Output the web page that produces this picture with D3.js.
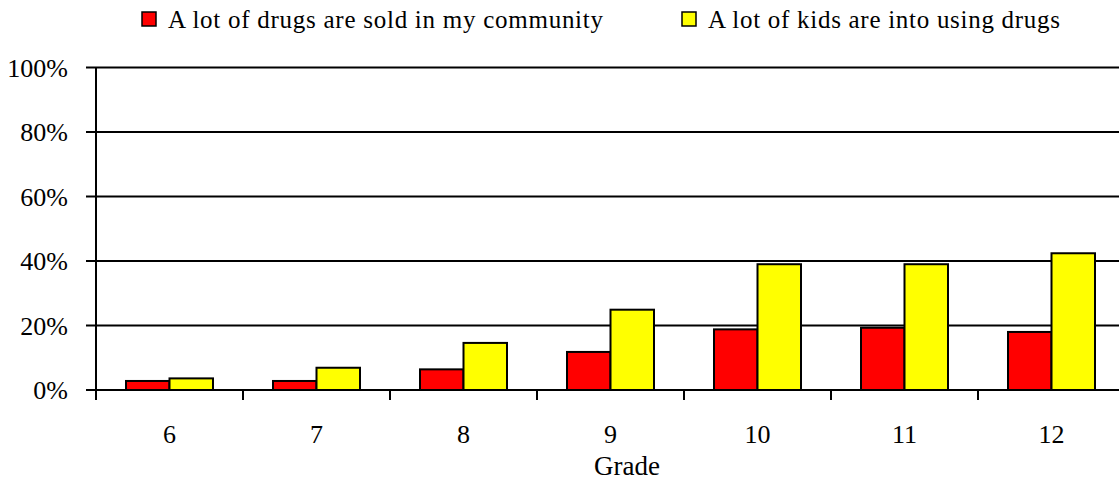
<!DOCTYPE html>
<html>
<head>
<meta charset="utf-8">
<script src="https://cdn.jsdelivr.net/npm/d3@7"></script>
<style>
  body { margin: 0; background: #fff; }
  svg { display: block; }
  text { font-family: "Liberation Serif", "DejaVu Serif", serif; }
</style>
</head>
<body>
<svg id="chart"></svg>
<script>
// Data
const grades = ["6", "7", "8", "9", "10", "11", "12"];
const seriesNames = ["A lot of drugs are sold in my community", "A lot of kids are into using drugs"];
const drugsSold = [2.8, 2.8, 6.4, 11.8, 18.8, 19.3, 18.0];
const kidsUsing = [3.6, 6.9, 14.6, 24.9, 39.0, 39.0, 42.4];
const yTicks = [0, 20, 40, 60, 80, 100];
const colors = ["#ff0000", "#ffff00"];

const width = 1119, height = 480;
const margin = { top: 67.5, right: -6, bottom: 90, left: 96 };
const fontFamily = "'Liberation Serif', 'DejaVu Serif', serif";

const svg = d3.select("#chart")
  .attr("width", width)
  .attr("height", height)
  .attr("font-family", fontFamily);

const dataset = grades.map((g, i) => ({ grade: g, values: [drugsSold[i], kidsUsing[i]] }));

// Scales
const x0 = d3.scaleBand()
  .domain(grades)
  .range([margin.left, width - margin.right]);

const x1 = d3.scaleBand()
  .domain([0, 1])
  .range([30, x0.bandwidth() - 30]);

const y = d3.scaleLinear()
  .domain([0, 100])
  .range([height - margin.bottom, margin.top]);

// Gridlines + y ticks
svg.append("g")
  .selectAll("line")
  .data(yTicks)
  .enter()
  .append("line")
  .attr("x1", margin.left - 10)
  .attr("x2", width)
  .attr("y1", d => y(d))
  .attr("y2", d => y(d))
  .attr("stroke", "#000")
  .attr("stroke-width", 2);

svg.append("g")
  .selectAll("text")
  .data(yTicks)
  .enter()
  .append("text")
  .attr("x", 68)
  .attr("y", d => y(d))
  .attr("dy", "0.35em")
  .attr("text-anchor", "end")
  .attr("font-size", 26)
  .text(d => d + "%");

// y axis line
svg.append("line")
  .attr("x1", margin.left).attr("x2", margin.left)
  .attr("y1", y(100)).attr("y2", y(0) + 10)
  .attr("stroke", "#000")
  .attr("stroke-width", 2);

// x ticks at category boundaries
svg.append("g")
  .selectAll("line")
  .data(grades.slice(1))
  .enter()
  .append("line")
  .attr("x1", d => x0(d)).attr("x2", d => x0(d))
  .attr("y1", y(0)).attr("y2", y(0) + 10)
  .attr("stroke", "#000")
  .attr("stroke-width", 2);

svg.append("g")
  .selectAll("text")
  .data(grades)
  .enter()
  .append("text")
  .attr("x", d => x0(d) + x0.bandwidth() / 2)
  .attr("y", 443)
  .attr("text-anchor", "middle")
  .attr("font-size", 26)
  .text(d => d);

// Bars
svg.append("g")
  .selectAll("g")
  .data(dataset)
  .enter()
  .append("g")
  .attr("transform", d => `translate(${x0(d.grade)},0)`)
  .selectAll("rect")
  .data(d => d.values)
  .enter()
  .append("rect")
  .attr("x", (d, i) => x1(i))
  .attr("y", d => y(d))
  .attr("width", x1.bandwidth())
  .attr("height", d => y(0) - y(d))
  .attr("fill", (d, i) => colors[i])
  .attr("stroke", "#000")
  .attr("stroke-width", 2);

// Axis title
svg.append("text")
  .attr("x", 627)
  .attr("y", 475)
  .attr("text-anchor", "middle")
  .attr("font-size", 27)
  .text("Grade");

// Legend
const legendX = [142, 682];
const legendLen = [435, 352];
const legend = svg.append("g")
  .selectAll("g")
  .data(seriesNames)
  .enter()
  .append("g")
  .attr("transform", (d, i) => `translate(${legendX[i]},0)`);

legend.append("rect")
  .attr("x", 0).attr("y", 12)
  .attr("width", 14).attr("height", 14)
  .attr("fill", (d, i) => colors[i])
  .attr("stroke", "#000")
  .attr("stroke-width", 1.5);

legend.append("text")
  .attr("x", 26)
  .attr("y", 28)
  .attr("font-size", 25)
  .attr("textLength", (d, i) => legendLen[i])
  .attr("lengthAdjust", "spacing")
  .text(d => d);
</script>
</body>
</html>
